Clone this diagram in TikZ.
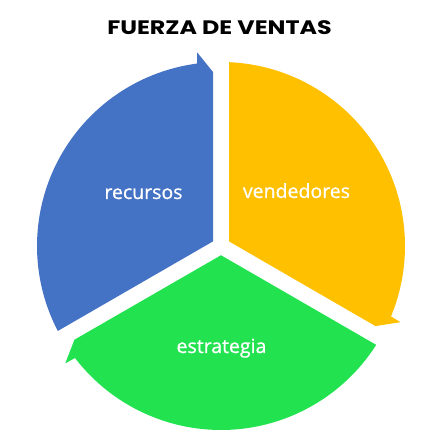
\documentclass[tikz,border=0pt]{standalone}
\usepackage{fontspec}
\setmainfont{Open Sans}
\newfontfamily\titlefont{Poppins}
\newfontfamily\labelfont{Open Sans}[FakeBold=0.8]
\usetikzlibrary{calc}

\definecolor{recBlue}{RGB}{68,114,196}
\definecolor{venYellow}{RGB}{255,192,0}
\definecolor{estGreen}{RGB}{34,226,80}

\begin{document}
\begin{tikzpicture}[x=1pt,y=1pt,
  label/.style={text=white,anchor=base,font=\labelfont\fontsize{19.5}{19.5}\selectfont}]
  \useasboundingbox (0,0) rectangle (439,442);
  \coordinate (C) at (221,196);
  % three arrow sectors, one rotated copy each
  \foreach \rot/\col in {0/recBlue,-120/venYellow,120/estGreen}{
    \begin{scope}[rotate around={\rot:(C)}]
      \fill[\col] ($(C)+(150:9.24)$) -- ($(C)+(207.5:184)$)
        arc[start angle=207.5,end angle=97.5,radius=184]
        -- ($(C)+(97:195)$) -- ($(C)+(92.6:174)$) -- cycle;
    \end{scope}
  }
  \node[font=\titlefont\bfseries\fontsize{19.5}{19.5}\selectfont,anchor=base,xscale=1.22] (title) at (219.5,407) {FUERZA DE VENTAS};
  \node[label] (rec) at (143.5,243) {recursos};
  \node[label] (ven) at (296.5,244) {vendedores};
  \node[label] (est) at (221.5,89) {estrategia};
\end{tikzpicture}
\end{document}
